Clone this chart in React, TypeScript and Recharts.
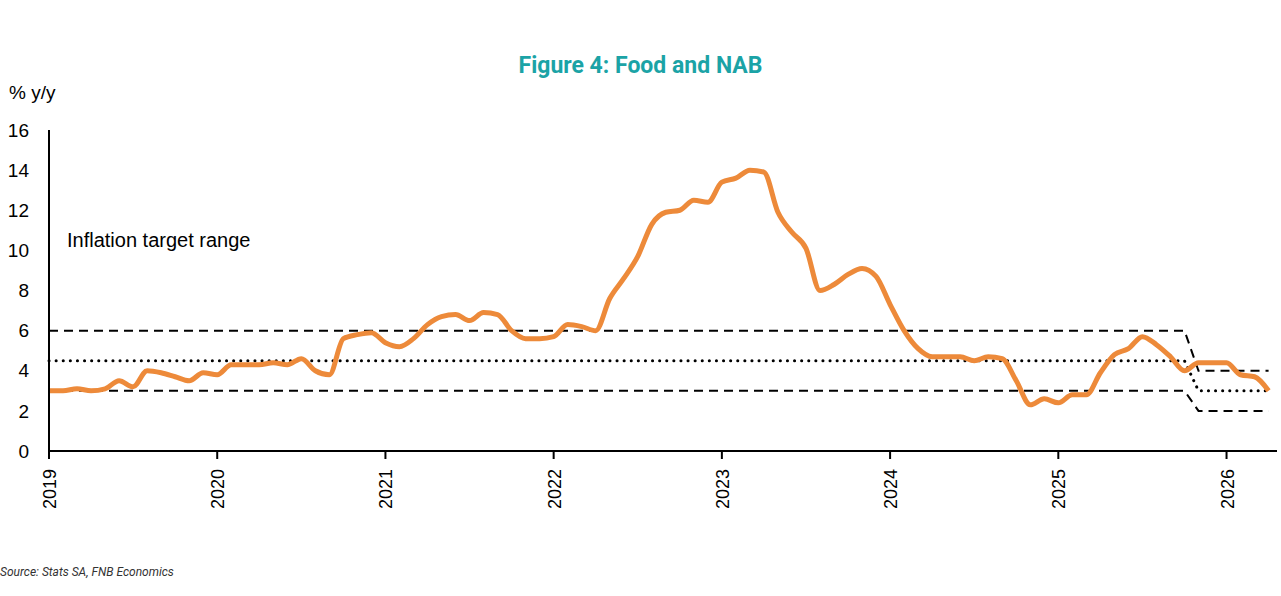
import React from "react";
import { LineChart, Line, XAxis, YAxis } from "recharts";

const years = ["2019", "2020", "2021", "2022", "2023", "2024", "2025", "2026"];
const food = [
  3.0, 3.0, 3.1, 3.0, 3.1, 3.5, 3.2, 4.0, 3.9, 3.7, 3.5, 3.9,
  3.8, 4.3, 4.3, 4.3, 4.4, 4.3, 4.6, 4.0, 3.8, 5.6, 5.8, 5.9,
  5.4, 5.2, 5.6, 6.3, 6.7, 6.8, 6.5, 6.9, 6.8, 6.0, 5.6, 5.6,
  5.7, 6.3, 6.2, 6.0, 7.6, 8.6, 9.7, 11.3, 11.9, 12.0, 12.5, 12.4,
  13.4, 13.6, 14.0, 13.9, 11.9, 10.9, 10.1, 8.0, 8.3, 8.8, 9.1, 8.7,
  7.3, 6.0, 5.1, 4.7, 4.7, 4.7, 4.5, 4.7, 4.6, 3.5, 2.3, 2.6,
  2.4, 2.8, 2.8, 3.9, 4.8, 5.1, 5.7, 5.3, 4.7, 4.0, 4.4, 4.4,
  4.4, 3.8, 3.7, 3.0,
];
const switchMonth = 82;
const oldUpper = 6, oldMid = 4.5, oldLower = 3;
const newUpper = 4, newMid = 3, newLower = 2;
const yTicks = [0, 2, 4, 6, 8, 10, 12, 14, 16];
const xTicks = [0, 12, 24, 36, 48, 60, 72, 84];

const data = food.map((v, i) => ({
  m: i,
  food: v,
  upper: i < switchMonth ? oldUpper : newUpper,
  mid: i < switchMonth ? oldMid : newMid,
  lower: i < switchMonth ? oldLower : newLower,
}));

const font = "Liberation Sans, Arial, sans-serif";

const XTick = (props: any) => {
  const { x, y, payload } = props;
  return (
    <text x={x + 7} y={y + 8} transform={`rotate(-90 ${x + 7} ${y + 8})`} textAnchor="end" fontSize={18} fill="#000" fontFamily={font}>
      {years[payload.value / 12]}
    </text>
  );
};

export default function App() {
  return (
    <div style={{ position: "fixed", left: 0, top: 0, width: 1281, height: 596, background: "#fff", fontFamily: font }}>
      <div style={{ position: "absolute", left: 0, width: 1281, top: 52, textAlign: "center", color: "#1ba3a6", fontWeight: 700, fontSize: 23, fontFamily: "Roboto, sans-serif" }}>
        Figure 4: Food and NAB
      </div>
      <div style={{ position: "absolute", left: 9, top: 82, fontSize: 19 }}>% y/y</div>
      <div style={{ position: "absolute", left: 67, top: 229, fontSize: 20 }}>Inflation target range</div>
      <div style={{ position: "absolute", left: 0, top: 565, fontSize: 12, fontStyle: "italic", color: "#333", fontFamily: "Roboto, sans-serif" }}>
        Source: Stats SA, FNB Economics
      </div>
      <LineChart width={1281} height={596} data={data} margin={{ top: 130, right: 4, left: 0, bottom: 85 }}>
        <XAxis dataKey="m" type="number" domain={[0, 87.6]} ticks={xTicks} tick={<XTick />} interval={0}
          axisLine={{ stroke: "#000", strokeWidth: 2 }} tickLine={{ stroke: "#000", strokeWidth: 2 }} tickSize={8} height={60} />
        <YAxis domain={[0, 16]} ticks={yTicks} width={49} axisLine={{ stroke: "#000", strokeWidth: 2 }} tickLine={false}
          tick={{ fill: "#000", fontSize: 19, fontFamily: font }} tickMargin={14} />
        <Line dataKey="upper" type="linear" stroke="#000" strokeWidth={2} strokeDasharray="9 6" dot={false} isAnimationActive={false} />
        <Line dataKey="lower" type="linear" stroke="#000" strokeWidth={2} strokeDasharray="9 6" dot={false} isAnimationActive={false} />
        <Line dataKey="mid" type="linear" stroke="#000" strokeWidth={3} strokeDasharray="0.1 7" strokeLinecap="round" dot={false} isAnimationActive={false} />
        <Line dataKey="food" type="monotone" stroke="#ed8a3a" strokeWidth={5} dot={false} isAnimationActive={false} />
      </LineChart>
    </div>
  );
}
